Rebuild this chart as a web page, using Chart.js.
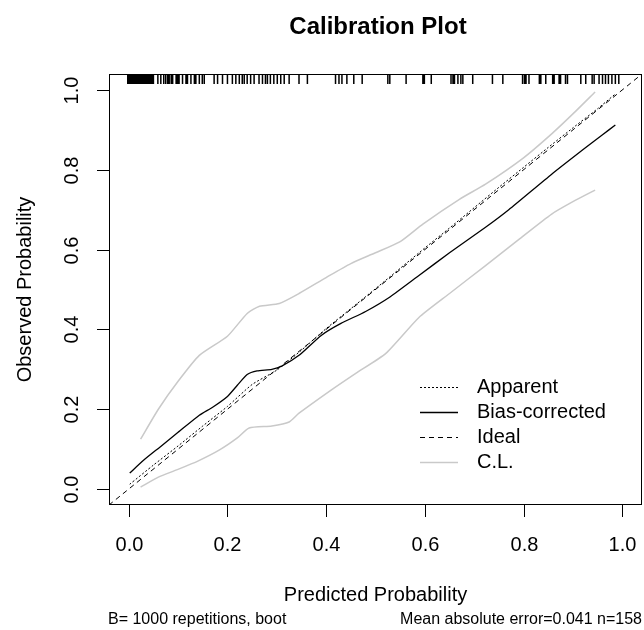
<!DOCTYPE html>
<html>
<head>
<meta charset="utf-8">
<script src="https://cdn.jsdelivr.net/npm/chart.js@4.4.1/dist/chart.umd.min.js"></script>
<style>
  html, body { margin:0; padding:0; background:#fff; }
  canvas { display:block; }
</style>
</head>
<body>
<canvas id="cal" width="644" height="630"></canvas>
<script>
// axis ticks
const tickVals = [0, 0.2, 0.4, 0.6, 0.8, 1.0];
const tickLabels = ['0.0', '0.2', '0.4', '0.6', '0.8', '1.0'];

// bias-corrected curve
const biasX = [0.002,0.03,0.063,0.1,0.143,0.17,0.2,0.22,0.24,0.26,0.29,0.31,0.345,0.39,0.43,0.48,0.53,0.588,0.65,0.723,0.77,0.857,0.92,0.96,0.986];
const biasY = [0.04,0.072,0.105,0.142,0.185,0.205,0.232,0.26,0.287,0.296,0.300,0.308,0.335,0.385,0.415,0.445,0.482,0.535,0.592,0.656,0.70,0.789,0.85,0.888,0.912];

// apparent curve
const appX = [0.002,0.05,0.1,0.15,0.2,0.25,0.3,0.35,0.4,0.45,0.5,0.55,0.6,0.65,0.7,0.75,0.8,0.85,0.9,0.95,0.986];
const appY = [0.012,0.06,0.108,0.158,0.207,0.262,0.298,0.348,0.402,0.452,0.502,0.553,0.604,0.654,0.705,0.756,0.806,0.856,0.905,0.953,0.99];

// confidence limits
const upperX = [0.024,0.06,0.1,0.143,0.2,0.24,0.265,0.305,0.345,0.4,0.45,0.5,0.55,0.596,0.67,0.723,0.8,0.857,0.9,0.945];
const upperY = [0.125,0.2,0.27,0.335,0.383,0.44,0.458,0.465,0.49,0.53,0.565,0.592,0.62,0.664,0.726,0.764,0.83,0.89,0.94,0.995];
const lowerX = [0.024,0.06,0.097,0.14,0.184,0.22,0.244,0.29,0.325,0.345,0.41,0.46,0.521,0.588,0.65,0.723,0.79,0.857,0.9,0.945];
const lowerY = [0.005,0.03,0.048,0.07,0.098,0.128,0.153,0.158,0.168,0.19,0.248,0.29,0.34,0.43,0.49,0.56,0.625,0.689,0.72,0.749];

// ideal line (corner to corner)
const idealX = [-0.04, 1.04];
const idealY = [-0.04, 1.04];

// rug of predicted probabilities along the top
const rugX = [-0.002,0.0,0.002,0.0035,0.005,0.0065,0.008,0.0095,0.011,0.0125,0.014,0.0155,0.017,0.0185,0.02,0.0215,0.023,
  0.0245,0.026,0.0275,0.029,0.0305,0.032,0.0335,0.035,0.0365,0.038,0.0395,0.041,0.0425,0.044,0.0455,0.047,0.0485,0.05,
  0.059,0.065,0.071,0.075,0.079,0.082,0.086,0.089,0.096,0.099,0.102,0.109,0.116,0.119,0.126,0.133,0.136,0.143,0.149,0.153,
  0.173,0.18,0.19,0.2,0.21,0.217,0.224,0.23,0.234,0.24,0.247,0.254,0.264,0.271,0.277,0.281,0.287,0.294,0.301,0.308,0.315,0.325,
  0.345,0.362,0.419,0.426,0.432,0.442,0.456,0.473,0.525,0.529,0.562,0.596,0.599,0.613,0.653,0.657,0.66,0.667,0.673,0.677,0.697,
  0.737,0.758,0.798,0.802,0.805,0.811,0.832,0.835,0.845,0.859,0.862,0.872,0.875,0.885,0.889,0.916,0.926,0.939,0.943,0.953,0.96,
  0.966,0.972,0.979,0.986,0.993];
const rugTop = 1.04, rugBottom = 1.015;

const legendItems = ['Apparent', 'Bias-corrected', 'Ideal', 'C.L.'];

const FONT = '"Liberation Sans", Arial, sans-serif';
const CL_COLOR = '#c9c9c9';

function pts(xs, ys){ return xs.map((x, i) => ({ x, y: ys[i] })); }

const rugPts = [];
rugX.forEach(v => { rugPts.push({x:v, y:rugTop}, {x:v, y:rugBottom}, {x:v, y:null}); });

// box, axes, titles and legend drawn on top using the chart scales
const decor = {
  id: 'decor',
  afterDraw(chart){
    const c = chart.ctx, a = chart.chartArea;
    const xs = chart.scales.x, ys = chart.scales.y;
    c.save();
    c.strokeStyle = '#000';
    c.lineWidth = 1;
    c.setLineDash([]);
    c.strokeRect(a.left + 0.5, a.top + 0.5, a.right - a.left - 1, a.bottom - a.top - 1);

    c.fillStyle = '#000';
    c.font = '20px ' + FONT;
    c.textAlign = 'center';
    c.textBaseline = 'middle';
    tickVals.forEach((v, i) => {
      const px = Math.round(xs.getPixelForValue(v)) + 0.5;
      c.beginPath(); c.moveTo(px, a.bottom); c.lineTo(px, a.bottom + 12); c.stroke();
      c.fillText(tickLabels[i], px, 545);
      const py = Math.round(ys.getPixelForValue(v)) + 0.5;
      c.beginPath(); c.moveTo(a.left, py); c.lineTo(a.left - 12, py); c.stroke();
      c.save(); c.translate(72, py); c.rotate(-Math.PI / 2); c.fillText(tickLabels[i], 0, 0); c.restore();
    });

    const cx = (a.left + a.right) / 2, cy = (a.top + a.bottom) / 2;
    c.fillText('Predicted Probability', cx, 595);
    c.save(); c.translate(25, cy); c.rotate(-Math.PI / 2); c.fillText('Observed Probability', 0, 0); c.restore();

    c.font = 'bold 24px ' + FONT;
    c.fillText('Calibration Plot', 378, 27);

    c.font = '16px ' + FONT;
    c.textAlign = 'left';
    c.fillText('B= 1000 repetitions, boot', 108, 620);
    c.textAlign = 'right';
    c.fillText('Mean absolute error=0.041 n=158', 642, 620);

    // legend
    const styles = [
      { color:'#000', width:1, dash:[2,2] },
      { color:'#000', width:1.3, dash:[] },
      { color:'#000', width:1, dash:[5,4] },
      { color:CL_COLOR, width:1.5, dash:[] }
    ];
    c.font = '20px ' + FONT;
    c.textAlign = 'left';
    legendItems.forEach((t, i) => {
      const y = 387 + i * 25;
      const s = styles[i];
      c.strokeStyle = s.color; c.lineWidth = s.width; c.setLineDash(s.dash);
      c.beginPath(); c.moveTo(420, y + 0.5); c.lineTo(458, y + 0.5); c.stroke();
      c.fillStyle = '#000';
      c.fillText(t, 477, y);
    });
    c.restore();
  }
};

new Chart(document.getElementById('cal'), {
  type: 'line',
  data: {
    datasets: [
      { label:'Apparent', data: pts(appX, appY), borderColor:'#000', borderWidth:1, borderDash:[2,2] },
      { label:'Bias-corrected', data: pts(biasX, biasY), borderColor:'#000', borderWidth:1.3 },
      { label:'Ideal', data: pts(idealX, idealY), borderColor:'#000', borderWidth:1, borderDash:[5,4] },
      { label:'C.L. upper', data: pts(upperX, upperY), borderColor:CL_COLOR, borderWidth:1.5 },
      { label:'C.L. lower', data: pts(lowerX, lowerY), borderColor:CL_COLOR, borderWidth:1.5 },
      { label:'rug', data: rugPts, borderColor:'#000', borderWidth:1.5, spanGaps:false }
    ]
  },
  options: {
    responsive: false,
    animation: false,
    devicePixelRatio: 1,
    layout: { padding: { left:109, right:2, top:74, bottom:125 } },
    elements: { point: { radius:0 }, line: { tension:0.2, fill:false } },
    scales: {
      x: { type:'linear', min:-0.04, max:1.04, display:false },
      y: { type:'linear', min:-0.04, max:1.04, display:false }
    },
    plugins: { legend: { display:false }, tooltip: { enabled:false } }
  },
  plugins: [decor]
});
</script>
</body>
</html>
